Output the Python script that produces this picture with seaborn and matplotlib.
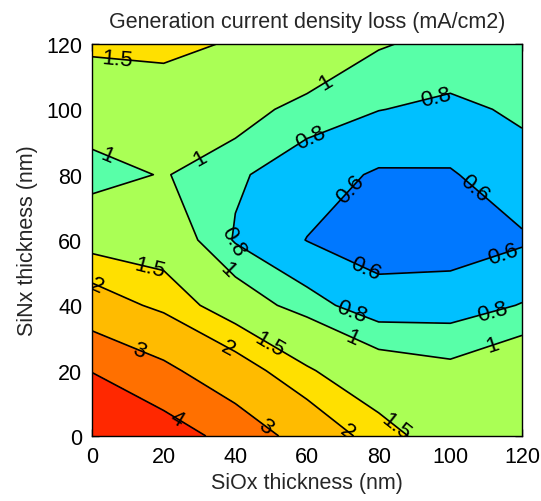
import numpy as np
import matplotlib
matplotlib.use("Agg")
import matplotlib.pyplot as plt
import seaborn as sns

# ---- data ----
siox = [0, 20, 40, 60, 80, 100, 120]          # x grid (nm)
sinx = [0, 20, 40, 60, 80, 100, 120]          # y grid (nm)
row_y0   = [5.05, 4.50, 3.65, 2.575, 1.69, 1.227, 1.35]
row_y20  = [3.97, 3.22, 2.34, 1.549, 1.155, 1.064, 1.223]
row_y40  = [2.38, 1.842, 1.17, 0.88, 0.679, 0.70, 0.81]
row_y60  = [1.27, 1.20, 0.78, 0.595, 0.513, 0.51, 0.574]
row_y80  = [0.887, 1.019, 0.829, 0.69, 0.576, 0.582, 0.726]
row_y100 = [1.177, 1.25, 1.136, 0.889, 0.805, 0.757, 0.83]
row_y120 = [1.578, 1.605, 1.463, 1.35, 1.02, 0.932, 0.90]
line_levels = [0.6, 0.8, 1, 1.5, 2, 3, 4]
tick_values = [0, 20, 40, 60, 80, 100, 120]
title = "Generation current density loss (mA/cm2)"
xlabel = "SiOx thickness (nm)"
ylabel = "SiNx thickness (nm)"

Z = np.array([row_y0, row_y20, row_y40, row_y60, row_y80, row_y100, row_y120])

sns.set_theme(style="ticks")
plt.rcParams['font.family'] = ['Liberation Sans', 'DejaVu Sans']

fig = plt.figure(figsize=(5.41, 5.02), dpi=100)
ax = fig.add_axes([92/541, 1-437/502, 430/541, 392/502])

fill_levels = [0.0] + line_levels + [10.0]
band_colors = ["#0078FF", "#00C0FF", "#58FFA8", "#AAFF55",
               "#FFE000", "#FFBB00", "#FF7000", "#FF2800"]
ax.contourf(siox, sinx, Z, levels=fill_levels, colors=band_colors)
cs = ax.contour(siox, sinx, Z, levels=line_levels, colors="black", linewidths=1.2)

label_pos = [(7, 114), (4, 85), (30, 85), (66, 107),
             (62, 89), (96, 104),
             (73, 75), (106, 75), (76, 51), (115, 55),
             (72, 37), (112, 37), (38, 58),
             (38, 51), (72, 29), (112, 27),
             (16, 51), (49, 27), (84, 2),
             (37, 25), (71, 1), (1, 45),
             (13, 26), (47, 1), (23, 4)]
ax.clabel(cs, fmt="%g", manual=label_pos, inline=False, fontsize=16, colors="black")

ax.set_xlim(0, 120)
ax.set_ylim(0, 120)
ax.set_xticks(tick_values)
ax.set_yticks(tick_values)
ax.tick_params(direction="in", length=5, width=1, top=True, right=True,
               labelsize=15.5, pad=7, colors="black")
for sp in ax.spines.values():
    sp.set_color("black")
    sp.set_linewidth(1.0)

ax.set_title(title, fontsize=15.5, pad=12)
ax.set_xlabel(xlabel, fontsize=15.5, labelpad=4)
ax.set_ylabel(ylabel, fontsize=15.5, labelpad=6)

fig.savefig("out.png", dpi=100, facecolor="white")
